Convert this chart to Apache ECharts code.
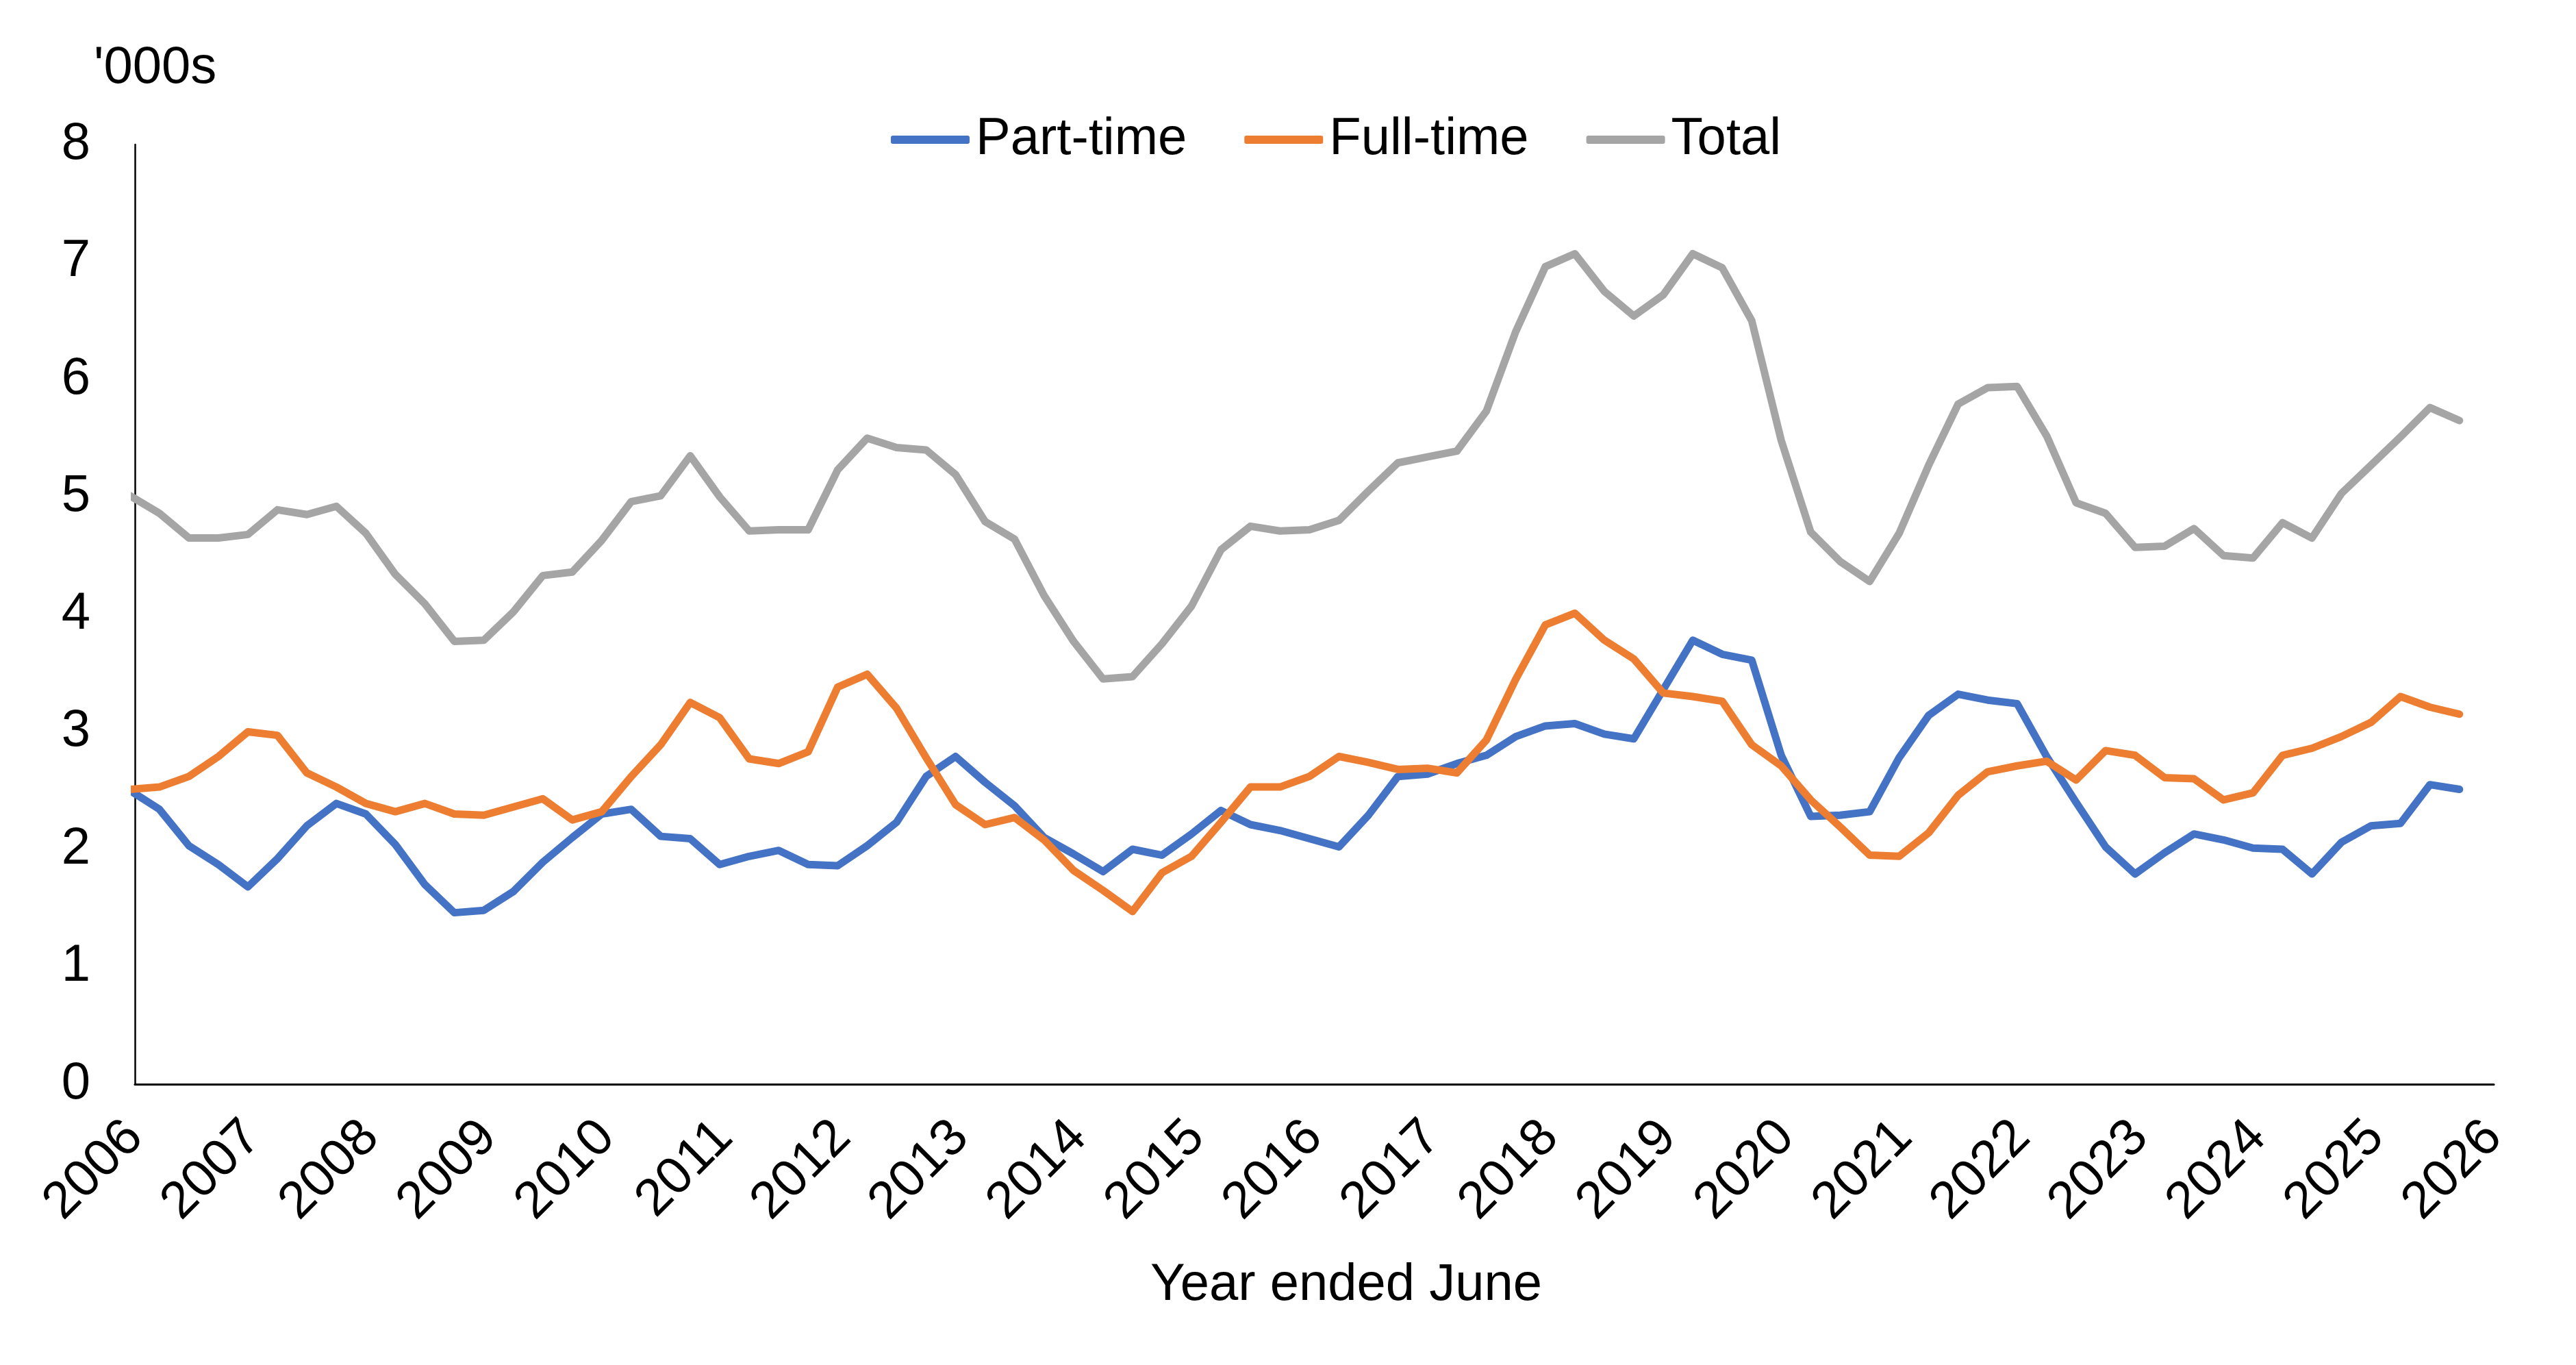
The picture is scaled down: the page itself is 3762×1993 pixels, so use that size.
<!DOCTYPE html>
<html>
<head>
<meta charset="utf-8">
<title>Part-time and full-time</title>
<script src="https://cdn.jsdelivr.net/npm/echarts@6/dist/echarts.min.js"></script>
<style>
html, body { margin: 0; padding: 0; background: #fff; }
#chart { width: 3762px; height: 1993px; }
</style>
</head>
<body>
<div id="chart"></div>
<script>
// quarterly observations, Dec 2005 .. Sep 2025 ('000s)
var quarters = [];
for (var y = 2005; y <= 2025; y++) {
    [3, 6, 9, 12].forEach(function (m) {
        if ((y === 2005 && m < 12) || (y === 2025 && m > 9)) return;
        quarters.push(y + '-' + (m < 10 ? '0' + m : m));
    });
}

var partTime = [
    2.50, 2.34, 2.03, 1.87, 1.68, 1.92, 2.20, 2.39, 2.30, 2.04,
    1.70, 1.46, 1.48, 1.64, 1.89, 2.10, 2.30, 2.34, 2.11, 2.09,
    1.87, 1.94, 1.99, 1.87, 1.86, 2.03, 2.23, 2.62, 2.79, 2.57,
    2.37, 2.10, 1.96, 1.81, 2.00, 1.95, 2.13, 2.33, 2.21, 2.16,
    2.09, 2.02, 2.29, 2.62, 2.64, 2.73, 2.80, 2.96, 3.05, 3.07,
    2.98, 2.94, 3.36, 3.78, 3.66, 3.61, 2.80, 2.28, 2.29, 2.32,
    2.78, 3.14, 3.32, 3.27, 3.24, 2.79, 2.40, 2.02, 1.79, 1.97,
    2.13, 2.08, 2.01, 2.00, 1.79, 2.06, 2.20, 2.22, 2.55, 2.51
];
var fullTime = [
    2.51, 2.53, 2.62, 2.79, 3.00, 2.97, 2.65, 2.53, 2.39, 2.32,
    2.39, 2.30, 2.29, 2.36, 2.43, 2.25, 2.32, 2.62, 2.89, 3.25,
    3.12, 2.77, 2.73, 2.83, 3.38, 3.49, 3.20, 2.78, 2.38, 2.21,
    2.27, 2.08, 1.82, 1.65, 1.47, 1.80, 1.94, 2.23, 2.53, 2.53,
    2.62, 2.79, 2.74, 2.68, 2.69, 2.65, 2.93, 3.45, 3.91, 4.01,
    3.78, 3.62, 3.33, 3.30, 3.26, 2.89, 2.71, 2.42, 2.19, 1.95,
    1.94, 2.14, 2.46, 2.66, 2.71, 2.75, 2.59, 2.84, 2.80, 2.61,
    2.60, 2.42, 2.48, 2.80, 2.86, 2.96, 3.08, 3.30, 3.21, 3.15
];
var total = [
    5.01, 4.86, 4.65, 4.65, 4.68, 4.89, 4.85, 4.92, 4.69, 4.34,
    4.09, 3.77, 3.78, 4.02, 4.33, 4.36, 4.63, 4.96, 5.01, 5.35,
    5.00, 4.71, 4.72, 4.72, 5.23, 5.50, 5.42, 5.40, 5.19, 4.79,
    4.64, 4.16, 3.77, 3.45, 3.47, 3.75, 4.07, 4.55, 4.75, 4.71,
    4.72, 4.80, 5.05, 5.29, 5.34, 5.39, 5.73, 6.41, 6.96, 7.07,
    6.75, 6.54, 6.72, 7.07, 6.95, 6.50, 5.48, 4.70, 4.45, 4.28,
    4.69, 5.27, 5.79, 5.93, 5.94, 5.52, 4.95, 4.86, 4.57, 4.58,
    4.73, 4.50, 4.48, 4.78, 4.65, 5.03, 5.27, 5.51, 5.76, 5.65
];

var seriesNames = ['Part-time', 'Full-time', 'Total'];
var seriesColors = ['#4472C4', '#ED7D31', '#A5A5A5'];

var font = "'Liberation Sans', Arial, sans-serif";

// quarter 'yyyy-mm' -> decimal year, placed mid-month
function toYear(q) {
    var p = q.split('-');
    return +p[0] + (+p[1] - 0.5) / 12;
}
function pairs(vals) {
    return quarters.map(function (q, i) { return [toYear(q), vals[i]]; });
}

var chart = echarts.init(document.getElementById('chart'));
chart.setOption({
    animation: false,
    backgroundColor: '#ffffff',
    color: seriesColors,
    textStyle: { fontFamily: font },
    grid: {
        left: 197,
        right: 120,
        top: 211,
        bottom: 410,
        outerBoundsMode: 'none'
    },
    legend: {
        data: seriesNames,
        left: 1296,
        top: 161,
        icon: 'roundRect',
        itemWidth: 115,
        itemHeight: 12,
        itemGap: 84,
        textStyle: { fontSize: 76, color: '#000', fontFamily: font, padding: [0, 0, 0, 4] }
    },
    xAxis: {
        type: 'value',
        min: 2006,
        max: 2026,
        interval: 1,
        axisLine: { onZero: false, lineStyle: { color: '#000', width: 3 } },
        axisTick: { show: false },
        splitLine: { show: false },
        axisLabel: {
            rotate: 45,
            margin: 66,
            padding: [34, 0, 0, 0],
            fontSize: 76,
            color: '#000',
            fontFamily: font,
            showMinLabel: true,
            showMaxLabel: true,
            formatter: function (v) { return String(v); }
        }
    },
    yAxis: {
        type: 'value',
        min: 0,
        max: 8,
        interval: 1,
        axisLine: { show: true, lineStyle: { color: '#000', width: 2.5 } },
        axisTick: { show: false },
        splitLine: { show: false },
        axisLabel: { margin: 65, fontSize: 76, color: '#000', fontFamily: font }
    },
    graphic: [
        {
            type: 'text',
            left: 137,
            top: 62,
            style: { text: "'000s", font: '76px ' + font, fill: '#000' }
        },
        {
            type: 'text',
            x: 1966,
            y: 1877,
            style: {
                text: 'Year ended June',
                font: '76px ' + font,
                fill: '#000',
                align: 'center',
                verticalAlign: 'middle'
            }
        }
    ],
    series: seriesNames.map(function (name, i) {
        return {
            name: name,
            type: 'line',
            data: pairs([partTime, fullTime, total][i]),
            symbol: 'none',
            clip: true,
            lineStyle: { width: 11, color: seriesColors[i], join: 'round', cap: 'round' }
        };
    })
});
</script>
</body>
</html>
